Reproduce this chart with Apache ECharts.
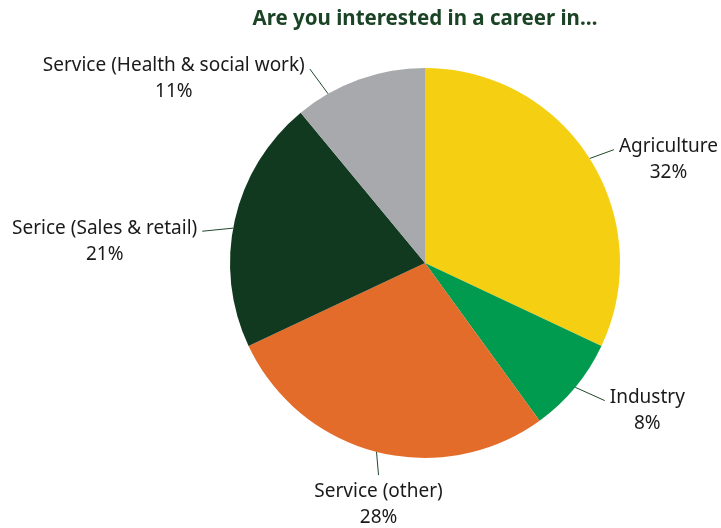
<!DOCTYPE html>
<html>
<head>
<meta charset="utf-8">
<script src="https://cdn.jsdelivr.net/npm/echarts@6/dist/echarts.min.js"></script>
<style>
  html, body { margin: 0; padding: 0; background: #ffffff; }
  #chart { width: 721px; height: 528px; }
</style>
</head>
<body>
<div id="chart"></div>
<script>
// Career interest shares (percent), clockwise from 12 o'clock
const categories = [
  'Agriculture',
  'Industry',
  'Service (other)',
  'Serice (Sales & retail)',
  'Service (Health & social work)'
];
const shares = [32, 8, 28, 21, 11];
const titleText = 'Are you interested in a career in…';

// Styling
const palette = ['#F5CF12', '#009B4E', '#E36C2A', '#10391F', '#A8A9AC'];
const LINE_H = 26;
const labelFont = 'Noto Sans';
const PIE_CENTER = [425, 263];
const PIE_RADIUS = 195;
// Small per-slice label offsets (px) so labels sit clear of their neighbours
const labelNudge = [[4, 4], [11, -2], [8, 0], [-9, 16], [-41, 12]];
// Per-slice rotation (deg) of where the leader line leaves the rim
const leaderTurn = [0, 0, 0, -2.3, -10];

const chart = echarts.init(document.getElementById('chart'), null, { renderer: 'canvas' });

chart.setOption({
  animation: false,
  backgroundColor: '#ffffff',
  title: {
    text: titleText,
    left: 420,
    textAlign: 'center',
    top: 4,
    textStyle: {
      fontFamily: labelFont,
      fontWeight: 'bold',
      fontSize: 20.5,
      color: '#1B4326'
    }
  },
  series: [{
    type: 'pie',
    center: PIE_CENTER,
    radius: PIE_RADIUS,
    startAngle: 90,
    clockwise: true,
    avoidLabelOverlap: false,
    emphasis: { disabled: true },
    data: categories.map((name, i) => ({
      name: name,
      value: shares[i],
      itemStyle: { color: palette[i] }
    })),
    label: {
      show: true,
      position: 'outside',
      formatter: '{n|{b}}\n{p|{c}%}',
      color: '#1a1a1a',
      rich: {
        n: { align: 'center', fontFamily: labelFont, fontSize: 19, lineHeight: LINE_H, color: '#1a1a1a' },
        p: { align: 'center', fontFamily: labelFont, fontSize: 19, lineHeight: LINE_H, color: '#1a1a1a' }
      }
    },
    labelLine: {
      show: true,
      length: 24,
      length2: 0,
      smooth: false,
      lineStyle: { color: '#1F4A2C', width: 1 }
    },
    // Put the first text line level with the end of each leader line;
    // labels whose leader points downward sit centred below it.
    labelLayout: function (p) {
      const pts = p.labelLinePoints;
      if (!pts || pts.length < 2) return {};
      const i = p.dataIndex;
      const nudge = labelNudge[i] || [0, 0];
      const rim = pts[0];
      const a = Math.atan2(rim[1] - PIE_CENTER[1], rim[0] - PIE_CENTER[0]) +
        (leaderTurn[i] || 0) * Math.PI / 180;
      const s = [PIE_CENTER[0] + PIE_RADIUS * Math.cos(a), PIE_CENTER[1] + PIE_RADIUS * Math.sin(a)];
      const raw = pts[pts.length - 1];
      const e = [raw[0] + nudge[0], raw[1] + nudge[1]];
      const line = [s, e];
      const dx = raw[0] - rim[0];
      const dy = raw[1] - rim[1];
      if (dy > 0 && Math.abs(dy) > 2 * Math.abs(dx)) {
        return { x: e[0], y: e[1] + 3, align: 'center', verticalAlign: 'top', labelLinePoints: line };
      }
      const right = dx >= 0;
      return {
        x: e[0] + (right ? 5 : -5),
        y: e[1] + LINE_H / 2 - 3,
        align: right ? 'left' : 'right',
        verticalAlign: 'middle',
        labelLinePoints: line
      };
    }
  }]
});
</script>
</body>
</html>
